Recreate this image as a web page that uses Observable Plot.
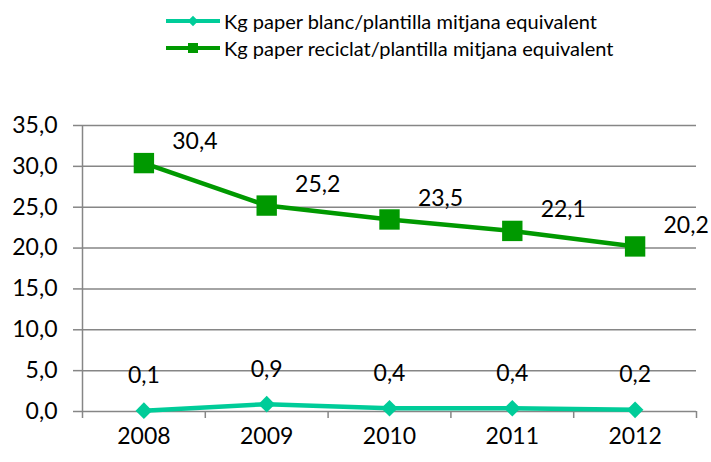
<!DOCTYPE html>
<html>
<head>
<meta charset="utf-8">
<script src="https://cdn.jsdelivr.net/npm/d3@7"></script>
<script src="https://cdn.jsdelivr.net/npm/@observablehq/plot@0.6"></script>
<style>
  html, body { margin: 0; padding: 0; background: #fff; }
  #wrap { width: 711px; height: 462px; overflow: hidden; position: relative; font-family: Lato, "Open Sans", sans-serif; }
  #legend { height: 65px; position: relative; }
  .lg-row { position: absolute; left: 166px; display: flex; align-items: center; font-size: 20px; color: #000; white-space: nowrap; }
  .lg-row svg { margin-right: 4px; }
</style>
</head>
<body>
<div id="wrap">
  <div id="legend"></div>
  <div id="chart"></div>
</div>
<script>
const years = [2008, 2009, 2010, 2011, 2012];
const blanc = [0.1, 0.9, 0.4, 0.4, 0.2];
const reciclat = [30.4, 25.2, 23.5, 22.1, 20.2];
const seriesNames = [
  "Kg paper blanc/plantilla mitjana equivalent",
  "Kg paper reciclat/plantilla mitjana equivalent"
];
const seriesColors = ["#00CC99", "#009900"];
const seriesSymbols = ["diamond2", "square"];
const yTicks = [0, 5, 10, 15, 20, 25, 30, 35];

const fmt = v => v.toFixed(1).replace(".", ",");

const dataBlanc = years.map((y, i) => ({year: y, value: blanc[i]}));
const dataReciclat = years.map((y, i) => ({year: y, value: reciclat[i]}));
const bounds = [...years.map(y => y - 0.5), years[years.length - 1] + 0.5];

// Legend
const legend = document.getElementById("legend");
seriesNames.forEach((name, i) => {
  const row = document.createElement("div");
  row.className = "lg-row";
  row.style.top = (i === 0 ? 9 : 36) + "px";
  const svg = d3.create("svg").attr("width", 54).attr("height", 24);
  svg.append("line").attr("x1", 0).attr("x2", 54).attr("y1", 12).attr("y2", 12)
    .attr("stroke", seriesColors[i]).attr("stroke-width", 4);
  if (i === 0) {
    svg.append("path").attr("d", d3.symbol(d3.symbolDiamond2, 70)()).attr("transform", "translate(27,12)").attr("fill", seriesColors[i]);
  } else {
    svg.append("rect").attr("x", 22).attr("y", 7).attr("width", 10).attr("height", 10).attr("fill", seriesColors[i]);
  }
  row.appendChild(svg.node());
  const span = document.createElement("span");
  span.textContent = name;
  row.appendChild(span);
  legend.appendChild(row);
});

const grid = "#868686";
const chart = Plot.plot({
  width: 711,
  height: 397,
  marginLeft: 82,
  marginRight: 15,
  marginTop: 60,
  marginBottom: 51,
  style: {fontFamily: "Lato, 'Open Sans', sans-serif", fontSize: "23px", color: "#000", background: "#fff"},
  x: {type: "linear", domain: [2007.5, 2012.5]},
  y: {domain: [0, 35]},
  marks: [
    Plot.ruleY(yTicks, {stroke: grid, strokeWidth: 1.5}),
    Plot.ruleX([2007.5], {y1: 0, y2: 35, stroke: grid, strokeWidth: 1.5}),
    Plot.axisY({ticks: yTicks, tickFormat: fmt, tickSize: 9, tickPadding: 16, stroke: grid, strokeWidth: 1.5, fontSize: 23, fill: "#000", label: null}),
    Plot.axisX({ticks: bounds, tickFormat: () => "", tickSize: 7, stroke: grid, strokeWidth: 1.5, label: null}),
    Plot.axisX({ticks: years, tickFormat: d => String(d), tickSize: 0, tickPadding: 16, fontSize: 23, fill: "#000", label: null}),
    Plot.line(dataReciclat, {x: "year", y: "value", stroke: seriesColors[1], strokeWidth: 4.5}),
    Plot.dot(dataReciclat, {x: "year", y: "value", symbol: seriesSymbols[1], r: 11.5, fill: seriesColors[1]}),
    Plot.line(dataBlanc, {x: "year", y: "value", stroke: seriesColors[0], strokeWidth: 4.5}),
    Plot.dot(dataBlanc, {x: "year", y: "value", symbol: seriesSymbols[0], r: 7.5, fill: seriesColors[0]}),
    Plot.text(dataReciclat, {x: "year", y: "value", text: d => fmt(d.value), dx: 51, dy: -21, fontSize: 23, fill: "#000"}),
    Plot.text(dataBlanc, {x: "year", y: "value", text: d => fmt(d.value), dy: -35, fontSize: 23, fill: "#000"})
  ]
});
document.getElementById("chart").appendChild(chart);
</script>
</body>
</html>
